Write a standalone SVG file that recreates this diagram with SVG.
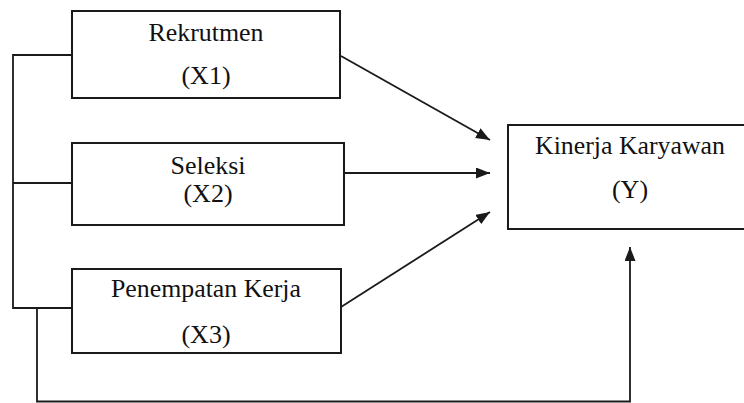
<svg xmlns="http://www.w3.org/2000/svg" width="744" height="403" viewBox="0 0 744 403">
<style>
.box{fill:#fff;stroke:#1a1a1a;stroke-width:2}
.ln{fill:none;stroke:#1a1a1a;stroke-width:1.8}
.t{font-family:'Liberation Serif','Times New Roman',Times,serif;font-size:26px;fill:#111;text-anchor:middle}
</style>
<defs>
<marker id="ah" viewBox="0 0 14 11" refX="14" refY="5.5" markerWidth="14" markerHeight="11" markerUnits="userSpaceOnUse" orient="auto">
<path d="M0,0 L14,5.5 L0,11 Z" fill="#1a1a1a"/>
</marker>
</defs>
<rect width="744" height="403" fill="#fff"/>
<g id="connectors">
<polyline class="ln" points="72,55 13,55 13,308 72,308"/>
<line class="ln" x1="13" y1="183" x2="72" y2="183"/>
<polyline class="ln" points="37,308 37,401.5 630,401.5 630,247" marker-end="url(#ah)"/>
<line class="ln" x1="341" y1="56" x2="490" y2="140" marker-end="url(#ah)"/>
<line class="ln" x1="344" y1="173" x2="490" y2="173" marker-end="url(#ah)"/>
<line class="ln" x1="341" y1="307" x2="490" y2="212" marker-end="url(#ah)"/>
</g>
<g id="x1">
<rect class="box" x="72" y="11" width="268" height="87"/>
<text class="t" x="206" y="41" textLength="115" lengthAdjust="spacingAndGlyphs">Rekrutmen</text>
<text class="t" x="206" y="84">(X1)</text>
</g>
<g id="x2">
<rect class="box" x="72" y="143" width="272" height="82"/>
<text class="t" x="208" y="174" textLength="75" lengthAdjust="spacingAndGlyphs">Seleksi</text>
<text class="t" x="208" y="202">(X2)</text>
</g>
<g id="x3">
<rect class="box" x="72" y="269" width="269" height="84"/>
<text class="t" x="206" y="297" textLength="190" lengthAdjust="spacingAndGlyphs">Penempatan Kerja</text>
<text class="t" x="206" y="343">(X3)</text>
</g>
<g id="y">
<rect class="box" x="508" y="125" width="250" height="104"/>
<text class="t" x="630" y="154" textLength="190" lengthAdjust="spacingAndGlyphs">Kinerja Karyawan</text>
<text class="t" x="630" y="198">(Y)</text>
</g>
</svg>
